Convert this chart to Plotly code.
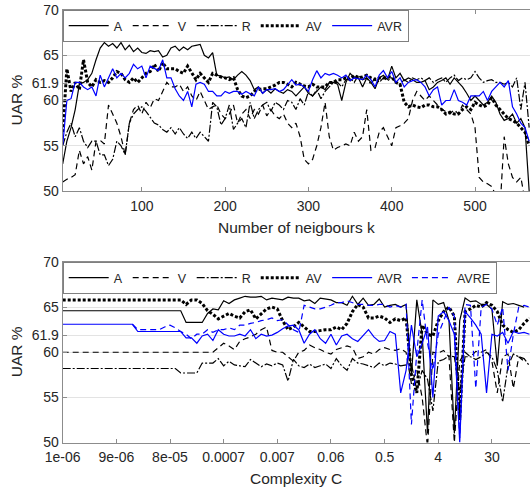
import plotly.graph_objects as go

# ---------------- data: top panel (kNN) ----------------
k_values = list(range(5, 570, 5))

top_A = [53, 55.5, 57, 59, 61.8, 62, 62.3, 63, 64.5, 65.8,
         66.4, 66, 66.3, 65.8, 66.4, 65.6, 66.1, 65.4, 65.8, 65.3,
         65.2, 65.5, 65.4, 65.5, 64.8, 65, 65.8, 66, 65.5, 65.9,
         65.6, 66, 66.1, 66.2, 65, 64.7, 65.3, 62.8, 62.7, 62.5,
         62.6, 62.3, 62.8, 63.2, 62.8, 62.2, 61.2, 61.5, 60.8, 61.2,
         60.8, 61.3, 61, 60.8, 61.2, 61, 60.5, 61, 61.5, 60.8,
         60.5, 61, 61.5, 61.2, 62, 62, 61.8, 60, 62, 63,
         62.5, 62.5, 61.5, 62.5, 62, 61.3, 62.5, 62.8, 62.3, 63.8,
         62.5, 63, 62.2, 62.5, 62.3, 62, 62, 62.2, 61.2, 61.5,
         62, 62.2, 62.5, 61.8, 62.5, 62, 61.5, 60.8, 60, 60.5,
         60, 59.5, 59.8, 60.5, 59.8, 58.5, 57.8, 58, 58.5, 57.5,
         58, 57, 50]
top_V = [51, 51.3, 51.5, 51.8, 54.5, 53, 53.8, 52.3, 55.5, 55.6,
         55.2, 59.5, 58.5, 57.5, 56, 54, 57.5, 59, 59.5, 58.5,
         59.8, 59.2, 60.2, 60, 61, 62, 61.5, 61.5, 61.8, 61,
         61.5, 60.5, 60, 61, 60, 59, 59.3, 59.5, 58.5, 58,
         58.5, 59.5, 57.5, 58.5, 59, 58, 59, 58.5, 59.5, 58.3,
         59, 58.3, 58, 58.5, 57.5, 57, 57.5, 56, 53.5, 53,
         53.5, 55, 57, 59.8, 56, 54.5, 54.8, 55, 55.2, 55,
         56.5, 55.5, 56, 59, 54.5, 54.8, 56.5, 57, 56, 55,
         57, 57.2, 57.5, 58, 60, 61, 60.5, 60, 60.5, 60,
         59.5, 59, 58.8, 58.5, 59, 58.5, 59.5, 59, 58.5, 57,
         51.5, 51, 50.8, 50.5, 49.5, 48, 56, 53, 51.5, 51,
         51.5, 49, 48]
top_R = [55, 56.5, 57.5, 56, 57, 55.5, 54.8, 55.5, 55.5, 54,
         54, 52.8, 53.5, 55.5, 55, 54, 57.5, 58.5, 59, 59.3,
         58.8, 58.2, 57.5, 57.3, 56.8, 56.5, 57, 56.3, 57, 56.3,
         55.8, 56.5, 55.8, 56.5, 56, 55.5, 59.8, 59.3, 57.3, 58,
         59.5, 56.8, 57.5, 58, 57, 59.8, 58, 59, 59.5, 59.8,
         58.8, 59.8, 59.5, 59, 60, 59.8, 59, 60.2, 59.5, 61,
         60.5, 61.2, 60.2, 61, 61.5, 62, 62, 61.5, 62.3, 62.5,
         62, 62.8, 62.3, 62.5, 61.8, 62.5, 62, 62.5, 62.2, 62.5,
         62, 61.8, 62.3, 62, 62.5, 62.3, 62.5, 62.2, 62.5, 62,
         62.3, 62.5, 62, 62.5, 62.8, 62.2, 62.5, 62.3, 62.5, 63.2,
         62.5, 62, 62.2, 62.3, 62, 62, 61.8, 62, 61.5, 62.5,
         59, 62, 57]
top_AV = [56.5, 63.5, 61, 62, 61.2, 64.5, 62, 61.5, 62.3, 62,
          62.2, 62, 62.5, 63.2, 63, 62.3, 62, 62.5, 62, 62.5,
          63, 63.2, 64, 63.2, 64.2, 63.5, 63.5, 63.5, 63.2, 63,
          63.8, 63, 62.3, 63, 62.5, 62, 63, 62.8, 62.6, 62.5,
          62.3, 62.5, 61.2, 60.5, 60.3, 60.5, 61, 61.2, 61.3, 61.3,
          61.5, 61.7, 62, 62, 61.8, 61.5, 62, 61.8, 61.6, 61.5,
          61.8, 61.5, 61.5, 61.5, 62, 62, 62.3, 62.3, 62.5, 62.3,
          62.8, 62.5, 62.6, 62.8, 62.5, 62.3, 62.5, 62.5, 62.6, 62.6,
          62, 61.8, 59.8, 59.3, 59.5, 59.3, 59.2, 59.5, 59.5, 59.3,
          59.3, 59, 58.5, 58.7, 58.5, 58.5, 59, 59.3, 59, 59.8,
          59.5, 59.3, 59.5, 60.3, 59.5, 59, 58.5, 58, 57.8, 57.5,
          57, 56.5, 55]
top_AVR = [55, 60, 60.2, 62, 62, 61.5, 61.2, 61.5, 60.5, 62.8,
           61.5, 62.5, 63.5, 62.5, 63, 62.5, 63, 64, 63.5, 63.8,
           62.5, 63.8, 63.5, 63.3, 64.5, 62.5, 62.5, 61.3, 60.5, 60,
           61, 59.3, 61.8, 62, 61.8, 61, 61, 60.5, 60.5, 61,
           60.8, 61, 61, 60.7, 61, 60.7, 60.5, 61.5, 60.8, 61.2,
           61.2, 61.3, 61, 61.2, 61.8, 62.3, 61.7, 61.8, 61.5, 61,
           62.3, 63.3, 62.5, 63, 62.8, 63, 62.8, 62.5, 62.8, 62.2,
           62.5, 62.4, 62.3, 62.8, 62.3, 61.5, 62.8, 63.3, 62.5, 63.2,
           62, 62.5, 61.5, 62, 62.2, 62.3, 62, 61.5, 60.5, 61.2,
           61.5, 59.5, 60, 60, 61.2, 60, 59.8, 59.5, 60.5, 60.5,
           60.5, 61, 60, 61, 61.5, 62, 61.5, 62.2, 59.3, 58.5,
           57.5, 57, 55.5]

# ---------------- data: bottom panel (SVM complexity) ----------------
c_index = list(range(88))
c_tick_index = [0, 10, 20, 30, 40, 50, 60, 70, 80]
c_tick_labels = ["1e-06", "9e-06", "8e-05", "0.0007", "0.007", "0.06", "0.5", "4", "30"]

bot_A = [64.6] * 23 + [63.3, 63.3, 63.3, 63.3, 64.3, 64.8, 64.7, 65.7, 65.4, 65.8,
         66, 66.2, 66.1, 66.1, 66.2, 65.8, 66, 65.9, 65.8, 66.1,
         66, 66, 65.7, 65.8, 65.4, 66, 65.9, 65.8, 65.5, 65.5,
         65.2, 66.2, 65.3, 66, 65.2, 65.3, 65.9,
         65.0, 65.2, 65.3, 65.0, 65.3, 57.5, 65.8, 62, 51,
         65.8, 65.3, 65.5, 63.5, 51, 63.5, 66, 65.6, 65.7, 65.3,
         65.3, 64.8, 58.5, 65.6, 65.3, 65.4, 65.2, 65]
bot_V = [60] * 29 + [60.5, 61, 60.7, 60.3, 61.2, 61.5, 61.7, 62, 62.5, 62.8,
         60.2, 60, 60, 59.5, 59, 60, 60.2, 60.8, 60.5, 60.3,
         60, 59.8, 60.3, 60.5, 60.7, 60.5, 59.3, 59.5, 60, 59.8, 60.3,
         60.5, 60.3, 60.2, 60.4, 60, 56.5, 58, 55, 49.5,
         60, 59.9, 60.2, 59.5, 50, 59, 60, 59.5, 60.1, 60,
         60.3, 59, 55.5, 59.5, 59.8, 56, 59.5, 59]
bot_R = [58.2] * 22 + [57.7, 57.7, 57.7, 57.7, 58.8, 58.8, 58.8, 59.3, 58.5, 59,
         58.6, 58.5, 58.4, 59.2, 58.8, 58.4, 58.7, 58.5, 58.8, 58.6,
         56.8, 59.2, 58.5, 58.3, 58.7, 58.3, 58.5, 58.7, 58.2, 59.3,
         58.5, 58, 59.3, 58.8, 58.7, 58.5, 58.3, 58.8,
         58.5, 58.8, 58.7, 58.5, 58.6, 58.7, 55.8, 58, 57, 53.5,
         59, 59.2, 59.6, 59.5, 55.5, 59.5, 59.5, 59.2, 59.5, 60,
         59.5, 58, 54.5, 58.5, 59.8, 59.5, 59.3, 58.5]
bot_AV = [65.8] * 23 + [65.3, 65.8, 65.8, 65.4, 64.6, 64.2, 63.7, 64, 64.3, 64,
          63.8, 64.5, 64.7, 63.7, 64.2, 64.8, 65, 64.8, 63.5, 62.5,
          62.8, 63.3, 62.8, 62.3, 62.3, 62.4, 62.5, 62.5, 62.8, 62.5,
          63.2, 64.5, 65.3, 65, 63.8, 63.8, 64,
          63.8, 63.3, 63.7, 63.5, 63.8, 57.5, 55.5, 63, 62, 61.8,
          63.5, 64.5, 65, 64, 52.5, 64.5, 64.8, 65.2, 65, 65.5,
          65.2, 64.5, 63, 62.5, 62.2, 62.5, 63.2, 63.8]
bot_AVR = [63.1] * 14 + [62.3] * 9 + [61.6, 61.6, 61, 61.8, 62, 61.3, 62.5, 62, 61.8, 61.8,
           62, 61.8, 62.5, 61.5, 62, 61.8, 61.9, 62.2, 62.6, 62.9,
           63, 62.5, 61, 62, 62.5, 61.5, 61, 62, 60.8, 61.8,
           62, 61.5, 61.2, 61.8, 62.5, 61.7, 61.2,
           61.3, 62.3, 62, 55.5, 58, 63, 59.5, 61, 62.8, 55,
           64, 64.5, 63.5, 62, 50, 64.5, 63.8, 63, 62, 55.5,
           62, 61.8, 62.2, 61, 62.3, 62.1, 62.2, 62]
bot_AVRE = [None] * 13 + [63.1, 62.5, 62.5, 62.5, 62.5, 62.5, 62.8, 63, 62.7, 62.3,
            62, 61.5, 62, 62, 62.5, 62.2, 62.5, 62.5, 62.7, 62.5,
            63, 63, 63.2, 63.3, 63.5, 63.6, 63.8, 63.5, 63.6, 63,
            62.5, 62.2, 65.2, 65, 64.8, 64.8, 65, 65.2, 65.5, 65.5,
            65.7, 65.5, 65.3, 65.3, 65.2, 65.2, 65.3,
            65.3, 65, 65.2, 65, 65.3, 52, 60, 65.8, 61, 58,
            62, 63.5, 65, 64, 50.5, 65.3, 65.2, 56, 65, 65.3,
            64.8, 63, 65, 58, 62, 65, 65.2, 65]

legend_names = ["A", "V", "R", "AV", "AVR", "AVRE"]
y_ticks = [50, 55, 60, 61.9, 65, 70]

# ---------------- styling ----------------
BLACK = "#000000"
BLUE = "#0000ff"
styles = {
    "A": dict(color=BLACK, width=1.2, dash="solid"),
    "V": dict(color=BLACK, width=1.2, dash="6px,4px"),
    "R": dict(color=BLACK, width=1.2, dash="8px,2px,2px,2px"),
    "AV": dict(color=BLACK, width=3, dash="3px,2px"),
    "AVR": dict(color=BLUE, width=1.2, dash="solid"),
    "AVRE": dict(color=BLUE, width=1.2, dash="6px,4px"),
}

W, H = 530, 490


def px_x(sx):
    return sx / W


def px_y(sy):
    return 1 - sy / H


x0 = px_x(62.7)
top_dom = [px_y(191), px_y(10)]
bot_dom = [px_y(442.5), px_y(262)]

fig = go.Figure()

top_series = [top_A, top_V, top_R, top_AV, top_AVR]
for name, ys in zip(legend_names[:5], top_series):
    fig.add_trace(go.Scatter(x=k_values, y=ys, mode="lines", name=name,
                             line=styles[name], xaxis="x", yaxis="y",
                             legend="legend", showlegend=True))

bot_series = [bot_A, bot_V, bot_R, bot_AV, bot_AVR, bot_AVRE]
for name, ys in zip(legend_names, bot_series):
    fig.add_trace(go.Scatter(x=c_index[:len(ys)], y=ys, mode="lines", name=name,
                             line=styles[name], xaxis="x2", yaxis="y2",
                             legend="legend2", showlegend=True))

FONT = "Liberation Sans, Arial, sans-serif"
TXT = "#262626"
AXC = "#8c8c8c"

common_y = dict(range=[50, 70], tickvals=y_ticks, ticktext=[str(v) for v in y_ticks],
                showgrid=True, gridcolor="#e3e3e3", gridwidth=1,
                showline=True, linecolor=AXC, linewidth=1, ticks="inside",
                ticklen=4, tickcolor=AXC, zeroline=False, automargin=False,
                ticklabeloverflow="allow",
                tickfont=dict(size=14, color=TXT, family=FONT))
common_x = dict(showgrid=False, showline=True, linecolor=AXC, linewidth=1,
                mirror="ticks", ticks="inside", ticklen=4, tickcolor=AXC,
                zeroline=False, automargin=False, ticklabelstandoff=2,
                ticklabeloverflow="allow",
                tickfont=dict(size=14, color=TXT, family=FONT))

legend_common = dict(orientation="h", xanchor="left", yanchor="top",
                     bgcolor="white", bordercolor="#7f7f7f", borderwidth=1,
                     font=dict(size=12.5, color=TXT, family=FONT),
                     tracegroupgap=0, itemwidth=40)

title_font = dict(size=15.5, color=TXT, family=FONT)

fig.update_layout(
    width=W, height=H,
    margin=dict(l=0, r=0, t=0, b=0),
    paper_bgcolor="white", plot_bgcolor="white",
    font=dict(family=FONT, color=TXT),
    xaxis=dict(domain=[x0, 1], range=[5, 566], anchor="y",
               tickvals=[100, 200, 300, 400, 500], **common_x),
    yaxis=dict(domain=top_dom, anchor="x", **common_y),
    xaxis2=dict(domain=[x0, 1], range=[0, 87.1], anchor="y2",
                tickvals=c_tick_index, ticktext=c_tick_labels, **common_x),
    yaxis2=dict(domain=bot_dom, anchor="x2", **common_y),
    legend=dict(x=x0, y=top_dom[1], **legend_common),
    legend2=dict(x=x0, y=bot_dom[1], **legend_common),
    showlegend=True,
    annotations=[
        dict(text="Number of neigbours k", x=(x0 + 1) / 2, y=px_y(227),
             xref="paper", yref="paper", showarrow=False,
             xanchor="center", yanchor="middle", font=title_font),
        dict(text="Complexity C", x=(x0 + 1) / 2, y=px_y(478),
             xref="paper", yref="paper", showarrow=False,
             xanchor="center", yanchor="middle", font=title_font),
        dict(text="UAR %", x=px_x(16), y=(top_dom[0] + top_dom[1]) / 2,
             xref="paper", yref="paper", showarrow=False, textangle=-90,
             xanchor="center", yanchor="middle", font=title_font),
        dict(text="UAR %", x=px_x(16), y=(bot_dom[0] + bot_dom[1]) / 2,
             xref="paper", yref="paper", showarrow=False, textangle=-90,
             xanchor="center", yanchor="middle", font=title_font),
    ],
)

# remove the default 8px page margin so the figure fills the window exactly
fig.write_html("out.html",
               config={"displayModeBar": False},
               post_script="document.body.style.margin='0px';"
                           "document.body.style.overflow='hidden';")
